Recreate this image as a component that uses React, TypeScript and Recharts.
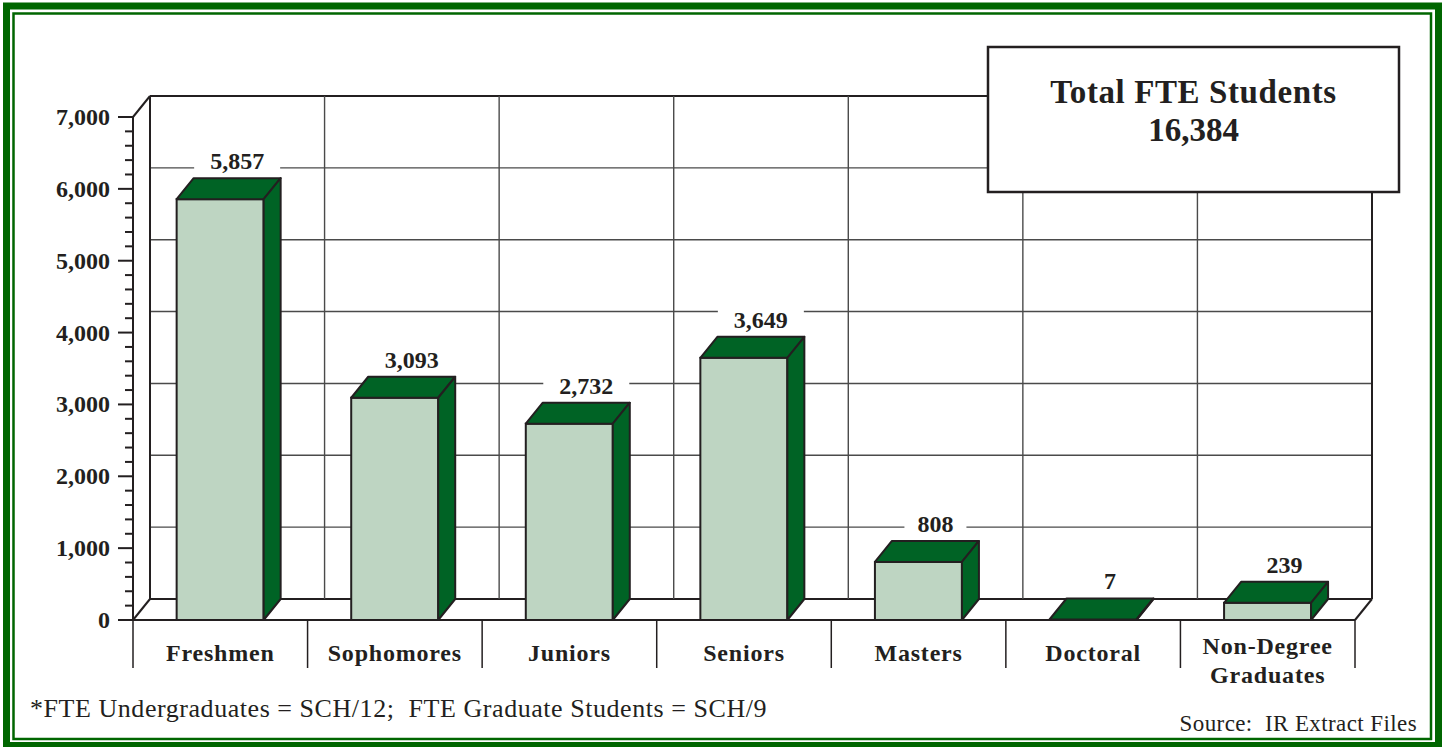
import React from 'react'
import { BarChart, Bar, XAxis, YAxis, CartesianGrid, LabelList } from 'recharts'

// ---- data ----
const CATEGORIES = ['Freshmen', 'Sophomores', 'Juniors', 'Seniors', 'Masters', 'Doctoral', 'Non-Degree Graduates']
const FTE_VALUES = [5857, 3093, 2732, 3649, 808, 7, 239]
const Y_MAJOR_TICKS = [0, 1000, 2000, 3000, 4000, 5000, 6000, 7000]
const Y_MINOR_STEP = 200
const TOTAL_TITLE = 'Total FTE Students'
const TOTAL_VALUE = 16384
const FOOTNOTE = '*FTE Undergraduates = SCH/12;  FTE Graduate Students = SCH/9'
const SOURCE = 'Source:  IR Extract Files'

const chartData = CATEGORIES.map((name, i) => ({ name, fte: FTE_VALUES[i] }))
const yMax = Y_MAJOR_TICKS[Y_MAJOR_TICKS.length - 1]
const yTicks = Array.from({ length: yMax / Y_MINOR_STEP + 1 }, (_, i) => i * Y_MINOR_STEP)

// ---- look ----
const W = 1445
const H = 747
const DX = 17 // depth of the 3d box
const DY = 21
const PLOT_X = 133
const PLOT_W = 1222
const INK = '#231f20'
const DARK_GREEN = '#006325'
const LIGHT_GREEN = '#bed5c2'
const FRAME_GREEN = '#006600'
const FONT = '"Liberation Serif", "Times New Roman", serif'

const fmt = (v: number) => v.toLocaleString('en-US')

// back wall horizontal lines, plus the side/floor diagonals
const backHLine = (props: any) => {
  const { x1, y1, x2, index } = props
  const top = props.y ?? 117
  const bottom = top + (props.height ?? 503)
  const isTop = Math.abs(y1 - top) < 1
  const isBottom = Math.abs(y1 - bottom) < 1
  return (
    <g key={`bh-${index}`}>
      <line x1={x1 + DX} y1={y1 - DY} x2={x2 + DX} y2={y1 - DY} stroke={isBottom || isTop ? INK : '#4a4a4a'} strokeWidth={isBottom || isTop ? 2 : 1.4} />
      {(isTop || isBottom) && <line x1={x1} y1={y1} x2={x1 + DX} y2={y1 - DY} stroke={INK} strokeWidth={2} />}
      {isBottom && <line x1={x2} y1={y1} x2={x2 + DX} y2={y1 - DY} stroke={INK} strokeWidth={2} />}
    </g>
  )
}

// back wall vertical lines on the category borders (grid points sit on category centres)
const backVLine = (props: any) => {
  const { x1, y1, y2, index } = props
  const left = props.x ?? PLOT_X
  const band = (props.width ?? PLOT_W) / CATEGORIES.length
  const k = (x1 - left) / band - 0.5
  const ki = Math.round(k)
  if (Math.abs(k - ki) > 0.1 || ki < 0 || ki >= CATEGORIES.length) return <g key={`bv-${index}`} />
  const xl = x1 - band / 2 + DX
  const xr = x1 + band / 2 + DX
  const last = ki === CATEGORIES.length - 1
  return (
    <g key={`bv-${index}`}>
      <line x1={xl} y1={y1 - DY} x2={xl} y2={y2 - DY} stroke={ki === 0 ? INK : '#4a4a4a'} strokeWidth={ki === 0 ? 2 : 1.4} />
      {last && <line x1={xr} y1={y1 - DY} x2={xr} y2={y2 - DY} stroke={INK} strokeWidth={2} />}
    </g>
  )
}

const Box3D = (props: any) => {
  const x = Number(props.x)
  const y = Number(props.y)
  const w = Number(props.width)
  const h = Number(props.height)
  if (!isFinite(x) || !isFinite(y)) return null
  const topFace = `${x},${y} ${x + DX},${y - DY} ${x + w + DX},${y - DY} ${x + w},${y}`
  const sideFace = `${x + w},${y} ${x + w + DX},${y - DY} ${x + w + DX},${y + h - DY} ${x + w},${y + h}`
  return (
    <g>
      {h > 1 && <rect x={x} y={y} width={w} height={h} fill={LIGHT_GREEN} stroke={INK} strokeWidth={2} />}
      <polygon points={topFace} fill={DARK_GREEN} stroke={INK} strokeWidth={2} strokeLinejoin="round" />
      <polygon points={sideFace} fill={DARK_GREEN} stroke={INK} strokeWidth={2} strokeLinejoin="round" />
    </g>
  )
}

const ValueLabel = (props: any) => {
  const x = Number(props.x)
  const y = Number(props.y)
  const w = Number(props.width)
  const txt = fmt(Number(props.value))
  const cx = x + w / 2 + DX
  const base = y - DY - 9
  const bw = txt.length * 12 + 26
  return (
    <g>
      <rect x={cx - bw / 2} y={base - 22} width={bw} height={28} fill="#fff" />
      <text x={cx} y={base} textAnchor="middle" fontFamily={FONT} fontWeight="bold" fontSize={24} fill={INK}>
        {txt}
      </text>
    </g>
  )
}

const YTick = (props: any) => {
  const { x, y, payload } = props
  const v = Number(payload.value)
  const major = v % 1000 === 0
  return (
    <g>
      <line x1={x - (major ? 15 : 8)} y1={y} x2={x} y2={y} stroke={INK} strokeWidth={2} />
      {major && (
        <text x={x - 23} y={y + 8} textAnchor="end" fontFamily={FONT} fontWeight="bold" fontSize={24} fill={INK}>
          {fmt(v)}
        </text>
      )}
    </g>
  )
}

const XTick = (props: any) => {
  const { x, y, payload, index } = props
  const half = payload.offset ?? (props.width ?? PLOT_W) / CATEGORIES.length / 2
  const label = String(payload.value)
  const lines = label.length > 12 ? [label.slice(0, label.lastIndexOf(' ')), label.slice(label.lastIndexOf(' ') + 1)] : [label]
  const last = index === CATEGORIES.length - 1
  return (
    <g>
      <line x1={x - half} y1={y} x2={x - half} y2={y + 48} stroke={INK} strokeWidth={1.5} />
      {last && <line x1={x + half} y1={y} x2={x + half} y2={y + 48} stroke={INK} strokeWidth={1.5} />}
      {lines.map((ln, i) => (
        <text
          key={ln}
          x={x}
          y={y + (lines.length > 1 ? 34 + i * 29 : 41)}
          textAnchor="middle"
          fontFamily={FONT}
          fontWeight="bold"
          fontSize={24}
          letterSpacing={0.8}
          fill={INK}
        >
          {ln}
        </text>
      ))}
    </g>
  )
}

export default function App() {
  return (
    <div style={{ position: 'absolute', left: 0, top: 0, width: W, height: H, background: '#fff' }}>
      <BarChart
        width={W}
        height={H}
        data={chartData}
        margin={{ top: 117, right: 90, bottom: 79, left: 33 }}
        barCategoryGap="25%"
      >
        <CartesianGrid
          horizontalValues={Y_MAJOR_TICKS}
          horizontal={backHLine}
          vertical={backVLine}
          stroke={INK}
        />
        <XAxis
          dataKey="name"
          height={48}
          tickSize={0}
          tickMargin={0}
          tickLine={false}
          axisLine={{ stroke: INK, strokeWidth: 2 }}
          tick={<XTick />}
          interval={0}
        />
        <YAxis
          type="number"
          domain={[0, yMax]}
          ticks={yTicks}
          interval={0}
          width={100}
          tickSize={0}
          tickMargin={0}
          tickLine={false}
          axisLine={{ stroke: INK, strokeWidth: 2 }}
          tick={<YTick />}
        />
        <Bar dataKey="fte" shape={<Box3D />} isAnimationActive={false}>
          <LabelList dataKey="fte" content={<ValueLabel />} />
        </Bar>
      </BarChart>

      <svg width={W} height={H} style={{ position: 'absolute', left: 0, top: 0, pointerEvents: 'none' }}>
        <rect x={6.5} y={6} width={1432} height={739.5} fill="none" stroke={FRAME_GREEN} strokeWidth={7} />
        <rect x={13.5} y={13.5} width={1417.5} height={725.5} fill="none" stroke={FRAME_GREEN} strokeWidth={2.5} />

        <rect x={988} y={47} width={411} height={145} fill="#fff" stroke={INK} strokeWidth={2.5} />
        <text x={1193.5} y={103} textAnchor="middle" fontFamily={FONT} fontWeight="bold" fontSize={33} letterSpacing={0.6} fill={INK}>
          {TOTAL_TITLE}
        </text>
        <text x={1193.5} y={141} textAnchor="middle" fontFamily={FONT} fontWeight="bold" fontSize={33} fill={INK}>
          {fmt(TOTAL_VALUE)}
        </text>

        <text x={30} y={717} fontFamily={FONT} fontSize={26} letterSpacing={0.55} fill={INK} style={{ whiteSpace: 'pre' }}>
          {FOOTNOTE}
        </text>
        <text x={1417} y={731} textAnchor="end" fontFamily={FONT} fontSize={23} letterSpacing={0.4} fill={INK} style={{ whiteSpace: 'pre' }}>
          {SOURCE}
        </text>
      </svg>
    </div>
  )
}
